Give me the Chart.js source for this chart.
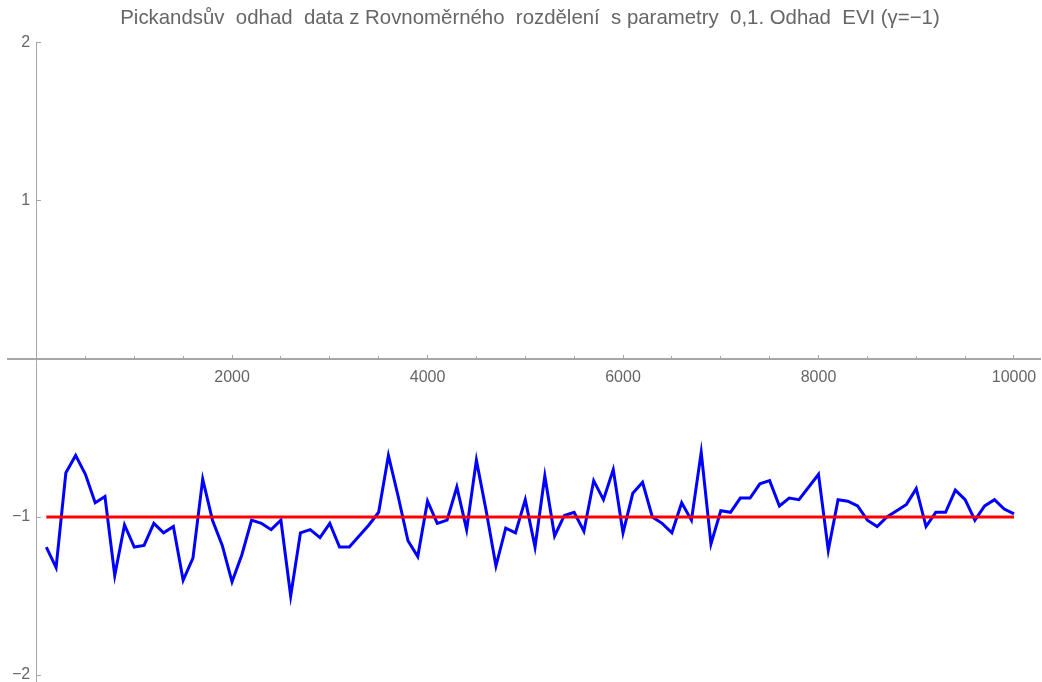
<!DOCTYPE html>
<html>
<head>
<meta charset="utf-8">
<script src="https://cdn.jsdelivr.net/npm/chart.js@4/dist/chart.umd.min.js"></script>
<style>
  html, body { margin: 0; padding: 0; background: #fff; }
  #wrap { width: 1042px; height: 682px; position: relative; }
</style>
</head>
<body>
<div id="wrap"><canvas id="chart"></canvas></div>
<script>
// Sample sizes k at which the Pickands estimator was evaluated
const sampleSizes = [
  100, 200, 300, 400, 500, 600, 700, 800, 900, 1000,
  1100, 1200, 1300, 1400, 1500, 1600, 1700, 1800, 1900, 2000,
  2100, 2200, 2300, 2400, 2500, 2600, 2700, 2800, 2900, 3000,
  3100, 3200, 3300, 3400, 3500, 3600, 3700, 3800, 3900, 4000,
  4100, 4200, 4300, 4400, 4500, 4600, 4700, 4800, 4900, 5000,
  5100, 5200, 5300, 5400, 5500, 5600, 5700, 5800, 5900, 6000,
  6100, 6200, 6300, 6400, 6500, 6600, 6700, 6800, 6900, 7000,
  7100, 7200, 7300, 7400, 7500, 7600, 7700, 7800, 7900, 8000,
  8100, 8200, 8300, 8400, 8500, 8600, 8700, 8800, 8900, 9000,
  9100, 9200, 9300, 9400, 9500, 9600, 9700, 9800, 9900, 10000
];

// Pickands estimate of the extreme value index for each sample size
const pickandsEstimate = [
  -1.19, -1.32, -0.72, -0.61, -0.73, -0.91, -0.87, -1.37, -1.05, -1.19,
  -1.18, -1.04, -1.10, -1.06, -1.40, -1.26, -0.76, -1.02, -1.18, -1.41,
  -1.24, -1.02, -1.04, -1.08, -1.02, -1.50, -1.10, -1.08, -1.13, -1.04,
  -1.19, -1.19, -1.12, -1.05, -0.97, -0.61, -0.87, -1.15, -1.25, -0.90,
  -1.04, -1.02, -0.81, -1.08, -0.64, -0.96, -1.31, -1.07, -1.10, -0.89,
  -1.19, -0.74, -1.12, -0.99, -0.97, -1.09, -0.77, -0.89, -0.70, -1.10,
  -0.85, -0.78, -1.00, -1.04, -1.10, -0.91, -1.02, -0.59, -1.17, -0.96,
  -0.97, -0.88, -0.88, -0.79, -0.77, -0.93, -0.88, -0.89, -0.81, -0.73,
  -1.21, -0.89, -0.90, -0.93, -1.02, -1.06, -1.00, -0.96, -0.92, -0.82,
  -1.06, -0.97, -0.97, -0.83, -0.89, -1.02, -0.93, -0.89, -0.95, -0.98
];

// True EVI of the uniform distribution
const trueEVI = -1;

// Axis ticks
const xMajorTicks = [2000, 4000, 6000, 8000, 10000];
const xMinorTicks = [500, 1000, 1500, 2500, 3000, 3500, 4500, 5000, 5500,
                     6500, 7000, 7500, 8500, 9000, 9500];
const yTicks = [-2, -1, 1, 2];

const titleText = 'Pickandsův  odhad  data z Rovnoměrného  rozdělení  s parametry  0,1. Odhad  EVI (γ=−1)';

const axisGrey = '#a6a6a6';
const labelGrey = '#666666';
const fontFamily = '"Liberation Sans", Arial, sans-serif';

const estimatePoints = sampleSizes.map((k, i) => ({ x: k, y: pickandsEstimate[i] }));
const referencePoints = [
  { x: sampleSizes[0], y: trueEVI },
  { x: sampleSizes[sampleSizes.length - 1], y: trueEVI }
];

const X_MIN = -292, X_MAX = 10266;
const Y_MIN = -2.044, Y_MAX = 2;

function noPadding(scale) {
  scale.paddingTop = 0; scale.paddingBottom = 0;
  scale.paddingLeft = 0; scale.paddingRight = 0;
}

// Nudge the title a little to the right of the canvas centre
const titleShift = {
  id: 'titleShift',
  afterLayout(chart) {
    const t = chart.titleBlock;
    if (t) { t.left += 6; t.right += 6; }
  }
};

new Chart(document.getElementById('chart'), {
  type: 'line',
  plugins: [titleShift],
  data: {
    datasets: [
      {
        label: 'EVI',
        data: referencePoints,
        borderColor: '#ff0000',
        borderWidth: 3,
        pointRadius: 0,
        order: 0
      },
      {
        label: 'Pickands',
        data: estimatePoints,
        borderColor: '#0000ff',
        borderWidth: 3,
        pointRadius: 0,
        tension: 0,
        borderJoinStyle: 'miter',
        order: 1
      }
    ]
  },
  options: {
    responsive: true,
    maintainAspectRatio: false,
    animation: false,
    devicePixelRatio: 1,
    layout: { padding: { left: 8, right: 2, top: 0, bottom: 0 } },
    plugins: {
      legend: { display: false },
      tooltip: { enabled: false },
      title: {
        display: true,
        text: titleText,
        color: labelGrey,
        font: { family: fontFamily, size: 20.4, weight: 'normal', lineHeight: 1.2 },
        padding: { top: 6, bottom: 12.5 }
      }
    },
    scales: {
      x: {
        type: 'linear',
        min: X_MIN,
        max: X_MAX,
        position: { y: 0 },
        afterBuildTicks: s => { s.ticks = xMajorTicks.map(v => ({ value: v })); },
        afterFit: noPadding,
        border: { display: true, color: axisGrey, width: 2 },
        grid: { display: true, drawOnChartArea: false, drawTicks: true, tickLength: -5, tickColor: axisGrey, tickWidth: 1 },
        ticks: {
          color: labelGrey,
          padding: 14,
          maxRotation: 0,
          font: { family: fontFamily, size: 16 },
          callback: v => String(v)
        }
      },
      xMinor: {
        type: 'linear',
        axis: 'x',
        min: X_MIN,
        max: X_MAX,
        position: { y: 0 },
        afterBuildTicks: s => { s.ticks = xMinorTicks.map(v => ({ value: v })); },
        afterFit: noPadding,
        border: { display: false },
        grid: { display: true, drawOnChartArea: false, drawTicks: true, tickLength: -3, tickColor: axisGrey, tickWidth: 1 },
        ticks: { display: false }
      },
      y: {
        type: 'linear',
        min: Y_MIN,
        max: Y_MAX,
        position: { x: 0 },
        afterBuildTicks: s => { s.ticks = yTicks.map(v => ({ value: v })); },
        afterFit: noPadding,
        border: { display: true, color: axisGrey, width: 1 },
        grid: { display: true, drawOnChartArea: false, drawTicks: true, tickLength: -5, tickColor: axisGrey, tickWidth: 1 },
        ticks: {
          color: labelGrey,
          padding: 6,
          font: { family: fontFamily, size: 16 },
          // thin spaces keep the label clear of the axis line
          callback: v => (v < 0 ? '\u2212' + Math.abs(v) : String(v)) + '\u2009\u2009'
        }
      }
    }
  }
});
</script>
</body>
</html>
